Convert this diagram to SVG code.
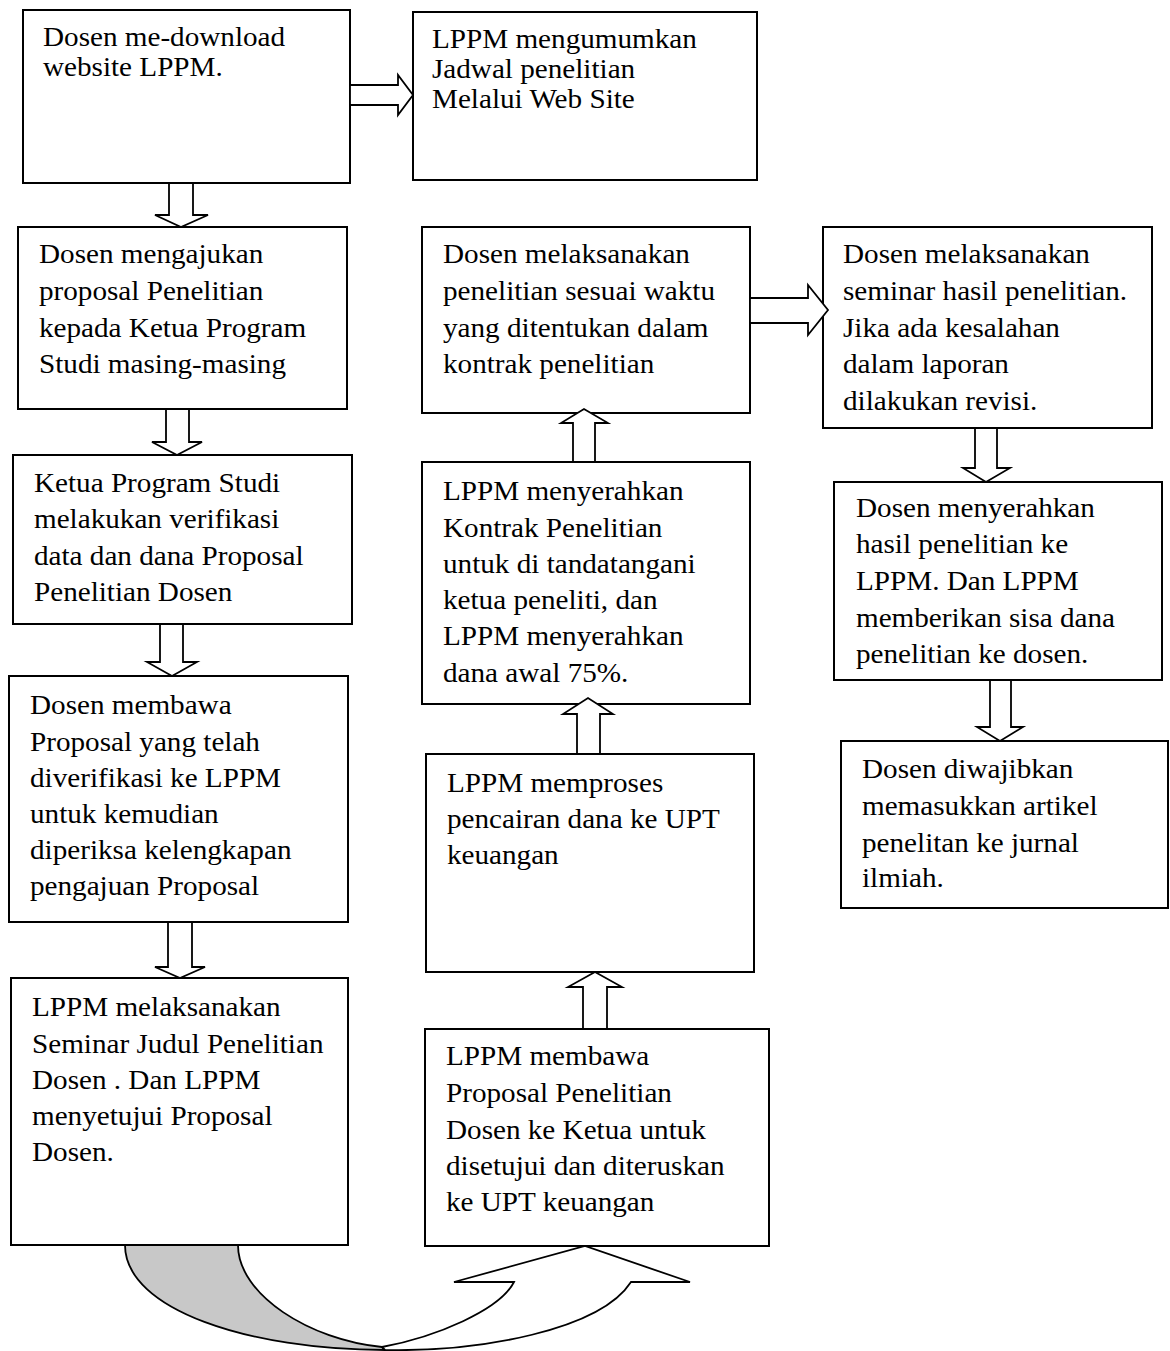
<svg xmlns="http://www.w3.org/2000/svg" width="1170" height="1351" viewBox="0 0 1170 1351">
<style>
.box{fill:#fff;stroke:#000;stroke-width:2}
.arr{fill:#fff;stroke:#000;stroke-width:1.8;stroke-linejoin:miter}
.t{font-family:"Liberation Serif","Times New Roman",serif;font-size:27px;fill:#000}
</style>
<rect width="1170" height="1351" fill="#fff"/>
<g id="n1"><rect class="box" x="23" y="10" width="327" height="173"/>
<text class="t" transform="translate(43,0) scale(1.08,1)"><tspan x="0" y="46">Dosen me-download</tspan><tspan x="0" y="76">website LPPM.</tspan></text></g>
<g id="n2"><rect class="box" x="413" y="12" width="344" height="168"/>
<text class="t" transform="translate(432,0) scale(1.08,1)"><tspan x="0" y="48">LPPM mengumumkan</tspan><tspan x="0" y="78">Jadwal penelitian</tspan><tspan x="0" y="108">Melalui Web Site</tspan></text></g>
<g id="n3"><rect class="box" x="18" y="227" width="329" height="182"/>
<text class="t" transform="translate(39,0) scale(1.08,1)"><tspan x="0" y="263">Dosen mengajukan</tspan><tspan x="0" y="300">proposal Penelitian</tspan><tspan x="0" y="337">kepada Ketua Program</tspan><tspan x="0" y="373">Studi masing-masing</tspan></text></g>
<g id="n4"><rect class="box" x="13" y="455" width="339" height="169"/>
<text class="t" transform="translate(34,0) scale(1.08,1)"><tspan x="0" y="492">Ketua Program Studi</tspan><tspan x="0" y="528">melakukan verifikasi</tspan><tspan x="0" y="565">data dan dana Proposal</tspan><tspan x="0" y="601">Penelitian Dosen</tspan></text></g>
<g id="n5"><rect class="box" x="9" y="676" width="339" height="246"/>
<text class="t" transform="translate(30,0) scale(1.08,1)"><tspan x="0" y="714">Dosen membawa</tspan><tspan x="0" y="751">Proposal yang telah</tspan><tspan x="0" y="787">diverifikasi ke LPPM</tspan><tspan x="0" y="823">untuk kemudian</tspan><tspan x="0" y="859">diperiksa kelengkapan</tspan><tspan x="0" y="895">pengajuan Proposal</tspan></text></g>
<g id="n6"><rect class="box" x="11" y="978" width="337" height="267"/>
<text class="t" transform="translate(32,0) scale(1.08,1)"><tspan x="0" y="1016">LPPM melaksanakan</tspan><tspan x="0" y="1053">Seminar Judul Penelitian</tspan><tspan x="0" y="1089">Dosen . Dan LPPM</tspan><tspan x="0" y="1125">menyetujui Proposal</tspan><tspan x="0" y="1161">Dosen.</tspan></text></g>
<g id="n7"><rect class="box" x="422" y="227" width="328" height="186"/>
<text class="t" transform="translate(443,0) scale(1.08,1)"><tspan x="0" y="263">Dosen melaksanakan</tspan><tspan x="0" y="300">penelitian sesuai waktu</tspan><tspan x="0" y="337">yang ditentukan dalam</tspan><tspan x="0" y="373">kontrak penelitian</tspan></text></g>
<g id="n8"><rect class="box" x="823" y="227" width="329" height="201"/>
<text class="t" transform="translate(843,0) scale(1.08,1)"><tspan x="0" y="263">Dosen melaksanakan</tspan><tspan x="0" y="300">seminar hasil penelitian.</tspan><tspan x="0" y="337">Jika ada kesalahan</tspan><tspan x="0" y="373">dalam laporan</tspan><tspan x="0" y="410">dilakukan revisi.</tspan></text></g>
<g id="n9"><rect class="box" x="834" y="482" width="328" height="198"/>
<text class="t" transform="translate(856,0) scale(1.08,1)"><tspan x="0" y="517">Dosen menyerahkan</tspan><tspan x="0" y="553">hasil penelitian ke</tspan><tspan x="0" y="590">LPPM. Dan LPPM</tspan><tspan x="0" y="627">memberikan sisa dana</tspan><tspan x="0" y="663">penelitian ke dosen.</tspan></text></g>
<g id="n10"><rect class="box" x="841" y="741" width="327" height="167"/>
<text class="t" transform="translate(862,0) scale(1.08,1)"><tspan x="0" y="778">Dosen diwajibkan</tspan><tspan x="0" y="815">memasukkan artikel</tspan><tspan x="0" y="852">penelitan ke jurnal</tspan><tspan x="0" y="887">ilmiah.</tspan></text></g>
<g id="n11"><rect class="box" x="422" y="462" width="328" height="242"/>
<text class="t" transform="translate(443,0) scale(1.08,1)"><tspan x="0" y="500">LPPM menyerahkan</tspan><tspan x="0" y="537">Kontrak Penelitian</tspan><tspan x="0" y="573">untuk di tandatangani</tspan><tspan x="0" y="609">ketua peneliti, dan</tspan><tspan x="0" y="645">LPPM menyerahkan</tspan><tspan x="0" y="682">dana awal 75%.</tspan></text></g>
<g id="n12"><rect class="box" x="426" y="754" width="328" height="218"/>
<text class="t" transform="translate(447,0) scale(1.08,1)"><tspan x="0" y="792">LPPM memproses</tspan><tspan x="0" y="828">pencairan dana ke UPT</tspan><tspan x="0" y="864">keuangan</tspan></text></g>
<g id="n13"><rect class="box" x="425" y="1029" width="344" height="217"/>
<text class="t" transform="translate(446,0) scale(1.08,1)"><tspan x="0" y="1065">LPPM membawa</tspan><tspan x="0" y="1102">Proposal Penelitian</tspan><tspan x="0" y="1139">Dosen ke Ketua untuk</tspan><tspan x="0" y="1175">disetujui dan diteruskan</tspan><tspan x="0" y="1211">ke UPT keuangan</tspan></text></g>
<g id="connectors">
<polygon class="arr" points="350,85 398,85 398,75 413,95 398,115 398,105 350,105"/>
<polygon class="arr" points="750,298 808,298 808,285 828,310 808,335 808,323 750,323"/>
<polygon class="arr" points="169,183 193,183 193,215 208,215 181,227 155,215 169,215"/>
<polygon class="arr" points="166,409 189,409 189,442 202,442 177,455 152,442 166,442"/>
<polygon class="arr" points="160,624 183,624 183,662 197,662 172,676 147,662 160,662"/>
<polygon class="arr" points="168,922 192,922 192,967 205,967 180,978 155,967 168,967"/>
<polygon class="arr" points="975,428 997,428 997,468 1010,468 986,482 963,468 975,468"/>
<polygon class="arr" points="990,680 1011,680 1011,727 1023,727 1000,741 977,727 990,727"/>
<polygon class="arr" points="573,462 595,462 595,423 608,423 584,409 561,423 573,423"/>
<polygon class="arr" points="577,754 600,754 600,714 613,714 588,698 563,714 577,714"/>
<polygon class="arr" points="583,1029 607,1029 607,987 622,987 595,972 568,987 583,987"/>
<path d="M125,1245 L238,1245 C238,1295 310,1340 382,1347 L385,1350 C250,1350 125,1310 125,1245 Z" fill="#c8c8c8" stroke="#000" stroke-width="1.8"/>
<path class="arr" d="M382,1347 C436,1337 500,1310 514,1282 L454,1282 L585,1246 L690,1282 L631,1282 C600,1330 480,1352 385,1350 Z"/>
</g>
</svg>
